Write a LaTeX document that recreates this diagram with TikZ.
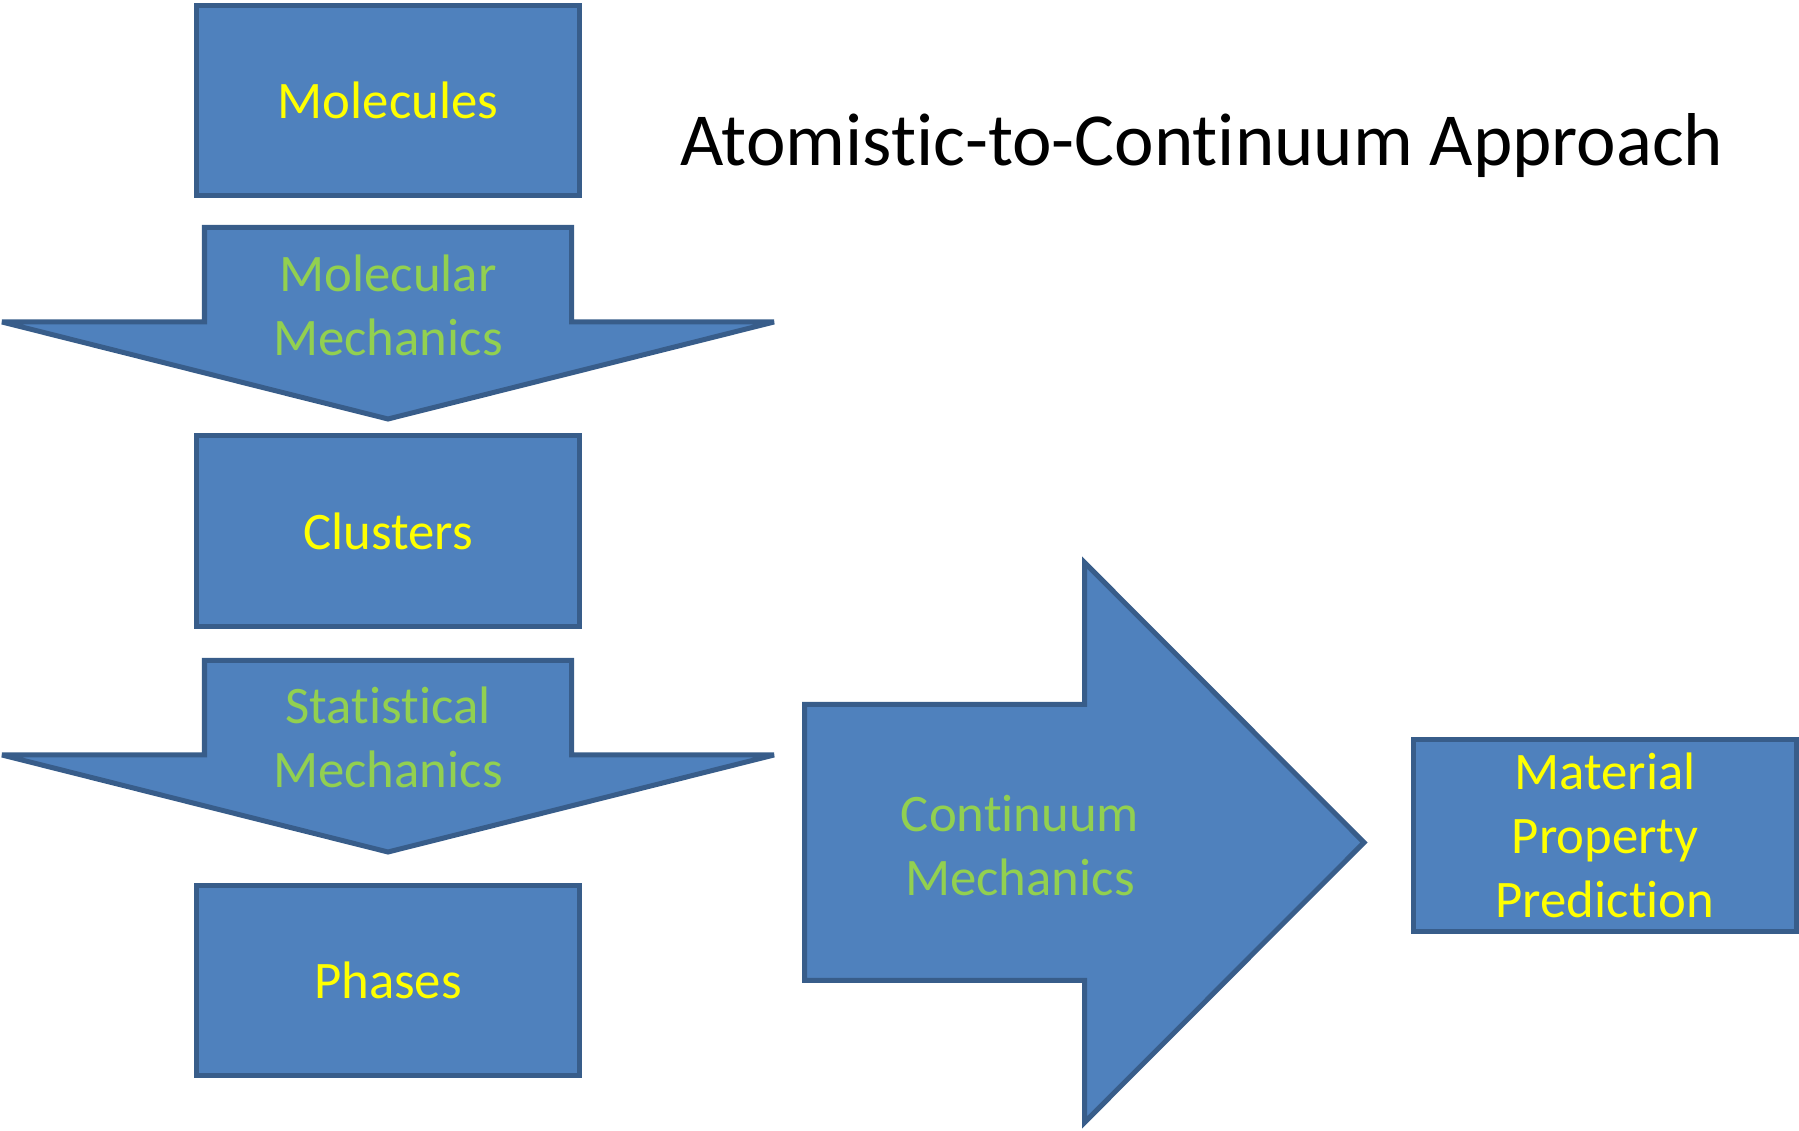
\documentclass[tikz,border=0pt]{standalone}
\usepackage{fontspec}
\setmainfont{Carlito}[RawFeature={-liga;-clig;-calt;-dlig}]
\usetikzlibrary{positioning}
\definecolor{boxfill}{HTML}{4F81BD}
\definecolor{boxline}{HTML}{385D8A}
\definecolor{labelyellow}{HTML}{FFFF00}
\definecolor{labelgreen}{HTML}{92D050}

\begin{document}
\begin{tikzpicture}[x=0.01cm, y=-0.01cm,
    every node/.style={align=center, font=\fontsize{15}{18.2}\selectfont},
    level/.style={rectangle, draw=boxline, fill=boxfill, line width=0.05cm, minimum width=3.83cm, minimum height=1.9cm, outer sep=0pt, text=labelyellow},
    method/.style={text=labelgreen},
    blockarrow/.style={draw=boxline, fill=boxfill, line width=0.05cm, miter limit=3}]

    \useasboundingbox (0,0) rectangle (1799,1131);

    % block arrows
    \draw[blockarrow] (204.5,227.5) -- (571.5,227.5) -- (571.5,322) -- (774,322) -- (388,419) -- (2,322) -- (204.5,322) -- cycle;
    \draw[blockarrow] (204.5,660.5) -- (571.5,660.5) -- (571.5,755) -- (774,755) -- (388,852) -- (2,755) -- (204.5,755) -- cycle;
    \draw[blockarrow] (804.5,704.5) -- (1084.5,704.5) -- (1084.5,562.5) -- (1364,842.5) -- (1084.5,1122.5) -- (1084.5,980.5) -- (804.5,980.5) -- cycle;

    % levels
    \node[level] (molecules) at (388,100.75) {Molecules};
    \node[level, below=2.4cm of molecules] (clusters) {Clusters};
    \node[level, below=2.595cm of clusters] (phases) {Phases};
    \node[level, minimum height=1.92cm] (prediction) at (1605,835.5) {Material\\Property\\Prediction};

    % methods
    \node[method] (molmech) at (388,305) {Molecular\\Mechanics};
    \node[method] (statmech) at (388,737) {Statistical\\Mechanics};
    \node[method] (contmech) at (1020,846) {Continuum\\Mechanics};

    \node[anchor=base, font=\fontsize{21.3}{25}\selectfont] (title) at (1202,166) {Atomistic-to-Continuum Approach};
\end{tikzpicture}
\end{document}
